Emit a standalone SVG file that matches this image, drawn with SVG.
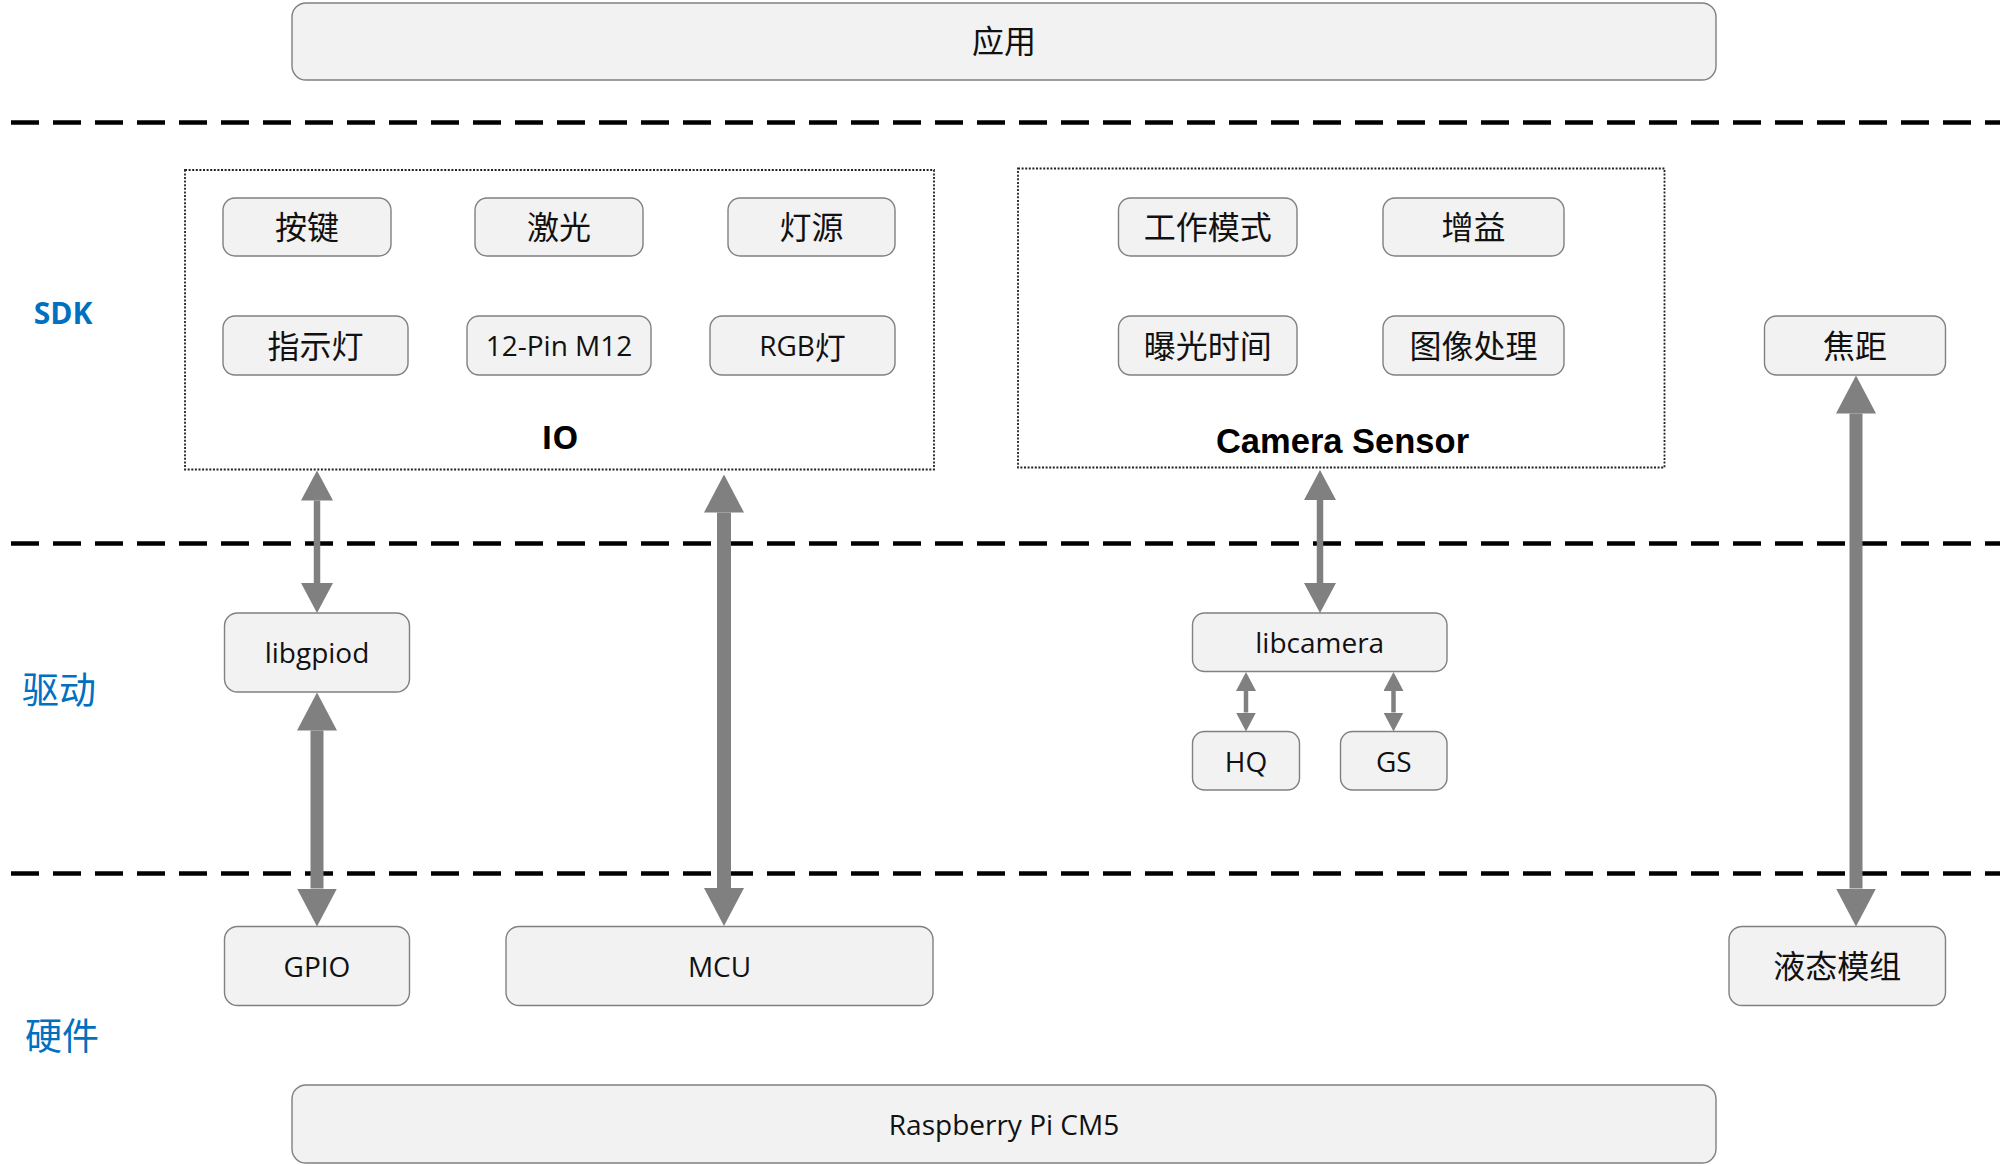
<svg xmlns="http://www.w3.org/2000/svg" width="2000" height="1166" viewBox="0 0 2000 1166">
<style>
.box{fill:#F2F2F2;stroke:#808080;stroke-width:1.4}
.ctr{fill:none;stroke:#222;stroke-width:1.8;stroke-dasharray:2 1.6}
.t{font-family:"Open Sans","Noto Sans CJK SC",sans-serif;font-size:28px;fill:#111;text-anchor:middle;dominant-baseline:central}
.zh{font-family:"Noto Sans CJK SC","Open Sans",sans-serif;font-size:32px;fill:#111;text-anchor:middle;dominant-baseline:central}
.lab{font-family:"Noto Sans CJK SC","Open Sans",sans-serif;font-size:37px;fill:#0070C0;text-anchor:middle;dominant-baseline:central}
.sdk{font-family:"Open Sans",sans-serif;font-size:30px;font-weight:bold;fill:#0070C0;text-anchor:middle;dominant-baseline:central}
.sep{stroke:#000;stroke-width:4.5;stroke-dasharray:28 14}
.arr{stroke:#808080;fill:none}
</style>
<defs>
<marker id="hL" markerUnits="userSpaceOnUse" markerWidth="38" markerHeight="40" refX="0" refY="20" orient="auto-start-reverse" viewBox="0 0 38 40"><path d="M0,0 L38,20 L0,40 Z" fill="#808080"/></marker>
<marker id="hM" markerUnits="userSpaceOnUse" markerWidth="30" markerHeight="32" refX="0" refY="16" orient="auto-start-reverse" viewBox="0 0 30 32"><path d="M0,0 L30,16 L0,32 Z" fill="#808080"/></marker>
<marker id="hS" markerUnits="userSpaceOnUse" markerWidth="19" markerHeight="20" refX="0" refY="10" orient="auto-start-reverse" viewBox="0 0 19 20"><path d="M0,0 L19,10 L0,20 Z" fill="#808080"/></marker>
</defs>
<rect width="2000" height="1166" fill="#fff"/>
<g id="separators">
<line class="sep" x1="11" y1="122.5" x2="2000" y2="122.5"/>
<line class="sep" x1="11" y1="543.5" x2="2000" y2="543.5"/>
<line class="sep" x1="11" y1="873.5" x2="2000" y2="873.5"/>
</g>
<g id="layer-labels">
<text class="sdk" x="63" y="312">SDK</text>
<text class="lab" x="59" y="688">驱动</text>
<text class="lab" x="62" y="1034">硬件</text>
</g>
<g id="app"><rect class="box" x="292" y="3" width="1424" height="77" rx="14"/><text class="zh" x="1004" y="39">应用</text></g>
<g id="io-container"><rect class="ctr" x="185" y="170" width="749" height="299.5"/><text x="560" y="436" font-family="'Open Sans',sans-serif" font-size="33" font-weight="bold" text-anchor="middle" dominant-baseline="central" fill="#000">IO</text></g>
<g id="anjian"><rect class="box" x="223" y="198" width="168" height="58" rx="12"/><text class="zh" x="307" y="225">按键</text></g>
<g id="jiguang"><rect class="box" x="475" y="198" width="168" height="58" rx="12"/><text class="zh" x="559" y="225">激光</text></g>
<g id="dengyuan"><rect class="box" x="728" y="198" width="167" height="58" rx="12"/><text class="zh" x="811.5" y="225">灯源</text></g>
<g id="zhishideng"><rect class="box" x="223" y="316" width="185" height="59" rx="12"/><text class="zh" x="315.5" y="343.5">指示灯</text></g>
<g id="pin-m12"><rect class="box" x="467" y="316" width="184" height="59" rx="12"/><text class="t" x="559" y="345">12-Pin M12</text></g>
<g id="rgb"><rect class="box" x="710" y="316" width="185" height="59" rx="12"/><text class="t" x="802.5" y="345">RGB<tspan font-family="'Noto Sans CJK SC',sans-serif" font-size="31">灯</tspan></text></g>
<g id="camera-container"><rect class="ctr" x="1018" y="168.5" width="646.5" height="299"/><text x="1342.5" y="441" font-family="'Liberation Sans',Arial,sans-serif" font-size="34.5" font-weight="bold" text-anchor="middle" dominant-baseline="central" fill="#000">Camera Sensor</text></g>
<g id="gongzuomoshi"><rect class="box" x="1118.5" y="198" width="178.5" height="58" rx="12"/><text class="zh" x="1207.75" y="225">工作模式</text></g>
<g id="zengyi"><rect class="box" x="1383" y="198" width="181" height="58" rx="12"/><text class="zh" x="1473.5" y="225">增益</text></g>
<g id="baoguang"><rect class="box" x="1118.5" y="316" width="178.5" height="59" rx="12"/><text class="zh" x="1207.75" y="343.5">曝光时间</text></g>
<g id="tuxiang"><rect class="box" x="1383" y="316" width="181" height="59" rx="12"/><text class="zh" x="1473.5" y="343.5">图像处理</text></g>
<g id="jiaoju"><rect class="box" x="1764.5" y="316" width="181" height="59" rx="12"/><text class="zh" x="1855" y="343.5">焦距</text></g>
<g id="libgpiod"><rect class="box" x="224.5" y="613" width="185" height="79" rx="13"/><text class="t" x="317" y="652">libgpiod</text></g>
<g id="libcamera"><rect class="box" x="1192.5" y="613" width="254.5" height="58.5" rx="12"/><text class="t" x="1319.75" y="641.5">libcamera</text></g>
<g id="hq"><rect class="box" x="1192.5" y="731.5" width="107" height="58.5" rx="12"/><text class="t" x="1246" y="760.5">HQ</text></g>
<g id="gs"><rect class="box" x="1340.5" y="731.5" width="106.5" height="58.5" rx="12"/><text class="t" x="1393.75" y="760.5">GS</text></g>
<g id="gpio"><rect class="box" x="224.5" y="926.5" width="185" height="79" rx="13"/><text class="t" x="317" y="965.5">GPIO</text></g>
<g id="mcu"><rect class="box" x="506" y="926.5" width="427" height="79" rx="13"/><text class="t" x="719.5" y="965.5">MCU</text></g>
<g id="yetai"><rect class="box" x="1729" y="926.5" width="216.5" height="79" rx="13"/><text class="zh" x="1837.25" y="964">液态模组</text></g>
<g id="rpi"><rect class="box" x="292" y="1085" width="1424" height="78" rx="14"/><text class="t" x="1004" y="1123.5">Raspberry Pi CM5</text></g>
<g id="connectors">
<line class="arr" stroke-width="6.5" x1="317" y1="500.5" x2="317" y2="583" marker-start="url(#hM)" marker-end="url(#hM)"/>
<line class="arr" stroke-width="13" x1="317" y1="730.5" x2="317" y2="888.5" marker-start="url(#hL)" marker-end="url(#hL)"/>
<line class="arr" stroke-width="14" x1="724" y1="512.5" x2="724" y2="888" marker-start="url(#hL)" marker-end="url(#hL)"/>
<line class="arr" stroke-width="6.5" x1="1320" y1="500" x2="1320" y2="583" marker-start="url(#hM)" marker-end="url(#hM)"/>
<line class="arr" stroke-width="13" x1="1856" y1="413.5" x2="1856" y2="888.5" marker-start="url(#hL)" marker-end="url(#hL)"/>
<line class="arr" stroke-width="4.5" x1="1246" y1="691" x2="1246" y2="712.5" marker-start="url(#hS)" marker-end="url(#hS)"/>
<line class="arr" stroke-width="4.5" x1="1393.5" y1="691" x2="1393.5" y2="712.5" marker-start="url(#hS)" marker-end="url(#hS)"/>
</g>
</svg>
